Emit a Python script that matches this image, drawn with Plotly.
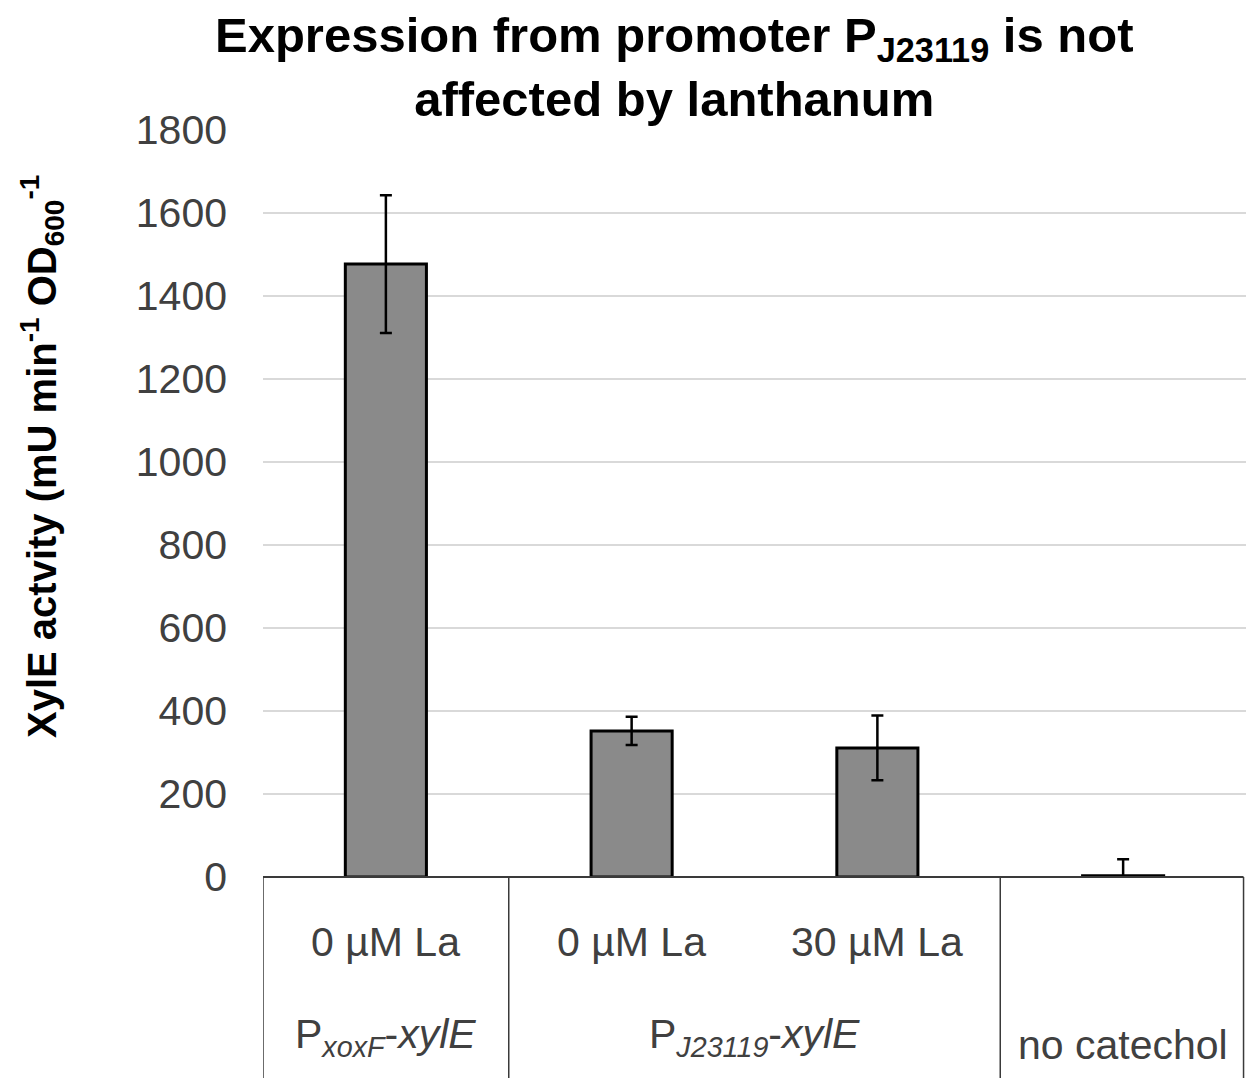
import plotly.graph_objects as go

# Mean XylE activity per strain/condition and error bar extents
conditions = ["0 µM La", "0 µM La", "30 µM La", ""]
activity = [1477, 352, 311, 3]
err_plus = [166, 34, 78, 40]
err_minus = [166, 34, 78, 3]

# Construct groups spanning the condition cells (start index, end index, label)
groups = [
    (0, 0, "P<sub><i>xoxF</i></sub>-<i>xylE</i>"),
    (1, 2, "P<sub><i>J23119</i></sub>-<i>xylE</i>"),
    (3, 3, "no catechol"),
]

y_ticks = [0, 200, 400, 600, 800, 1000, 1200, 1400, 1600, 1800]

FONT = "Liberation Sans, Arial, sans-serif"
W, H = 1246, 1078
M_L, M_R, M_T, M_B = 263, 0, 130, 201
plot_h = H - M_T - M_B

x_pos = list(range(len(activity)))

fig = go.Figure()
fig.add_trace(go.Bar(
    x=x_pos,
    y=activity,
    width=0.33,
    marker=dict(color="#8a8a8a", line=dict(color="#000000", width=3)),
    error_y=dict(type="data", symmetric=False, array=err_plus, arrayminus=err_minus,
                 color="#000000", thickness=2.5, width=6),
))

def py(px_below):
    """Paper y coordinate for a distance in pixels below the x axis."""
    return -px_below / plot_h

shapes = []
# horizontal axis line of the category table
shapes.append(dict(type="line", xref="x", yref="paper", x0=-0.5, x1=3.49, y0=0, y1=0,
                   line=dict(color="#3a3a3a", width=2)))
# vertical separators between construct groups
for xv in [-0.5, 0.5, 2.5, 3.49]:
    shapes.append(dict(type="line", xref="x", yref="paper", x0=xv, x1=xv,
                       y0=0, y1=py(M_B), line=dict(color="#3a3a3a", width=1.5)))

LABEL_SIZE = 41
annotations = []
for i, c in enumerate(conditions):
    if c:
        annotations.append(dict(text=c, x=i, xref="x", y=py(65), yref="paper",
                                showarrow=False, xanchor="center", yanchor="middle",
                                font=dict(family=FONT, size=LABEL_SIZE, color="#404040")))
for g0, g1, label in groups:
    yoff = 160 if label != "no catechol" else 168
    annotations.append(dict(text=label, x=(g0 + g1) / 2, xref="x", y=py(yoff), yref="paper",
                            showarrow=False, xanchor="center", yanchor="middle",
                            font=dict(family=FONT, size=LABEL_SIZE, color="#404040")))

# y axis title
annotations.append(dict(
    text="<b>XylE actvity (mU min<sup>-1</sup> OD<sub>600</sub><sup>-1</sup></b>",
    xref="paper", x=0, xshift=-221, yref="paper", y=(H - M_B - 457) / plot_h,
    textangle=-90, showarrow=False, xanchor="center", yanchor="middle",
    font=dict(family=FONT, size=40, color="#000000")))

# chart title
annotations.append(dict(
    text="<b>Expression from promoter P<sub>J23119</sub> is not<br>affected by lanthanum</b>",
    xref="paper", x=(674 - M_L) / (W - M_L - M_R), yref="paper", y=1, yshift=M_T - 6,
    showarrow=False, xanchor="center", yanchor="top",
    font=dict(family=FONT, size=49, color="#000000")))

fig.update_layout(
    width=W, height=H,
    margin=dict(l=M_L, r=M_R, t=M_T, b=M_B, pad=0),
    paper_bgcolor="white", plot_bgcolor="white",
    showlegend=False,
    bargap=0.67,
    xaxis=dict(range=[-0.5, 3.5], showticklabels=False, showgrid=False,
               zeroline=False, showline=False, fixedrange=True),
    yaxis=dict(range=[0, 1800], tickvals=y_ticks, showgrid=True, gridcolor="#d9d9d9",
               gridwidth=1.5, zeroline=False, showline=False, ticks="",
               ticklabelstandoff=35,
               tickfont=dict(family=FONT, size=LABEL_SIZE, color="#404040")),
    shapes=shapes,
    annotations=annotations,
)

fig.write_html("out.html")
